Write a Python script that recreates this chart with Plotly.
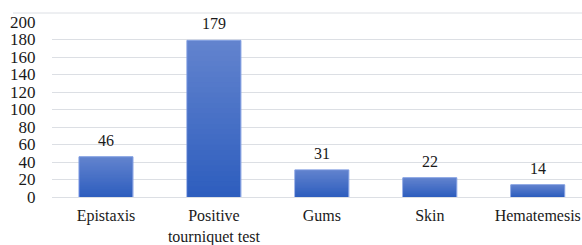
import plotly.graph_objects as go

categories = ["Epistaxis", "Positive<br>tourniquet test", "Gums", "Skin", "Hematemesis"]
values = [46, 179, 31, 22, 14]
y_ticks = [0, 20, 40, 60, 80, 100, 120, 140, 160, 180, 200]

font_family = "Liberation Serif"
text_color = "#1a1a1a"
top_rgb = (98, 131, 206)
bottom_rgb = (46, 94, 190)
n_layers = 30
bar_width = 0.5

fig = go.Figure()

# vertical gradient per bar, built by overlaying shrinking bars
for k in range(n_layers):
    t = k / (n_layers - 1)
    rgb = tuple(round(a + (b - a) * t) for a, b in zip(top_rgb, bottom_rgb))
    frac = 1 - k / n_layers
    fig.add_trace(
        go.Bar(
            x=categories,
            y=[v * frac for v in values],
            width=bar_width if k == 0 else bar_width - 2 / 108,
            marker=dict(
                color="rgb(%d,%d,%d)" % rgb,
                line=dict(color="#7d9be0", width=1 if k == 0 else 0),
            ),
            hoverinfo="skip" if k else "x+y",
        )
    )

for c, v in zip(categories, values):
    fig.add_annotation(
        x=c, y=v, text=str(v), showarrow=False, yanchor="bottom", yshift=6,
        font=dict(family=font_family, size=16, color=text_color),
    )

fig.update_layout(
    width=582,
    height=245,
    margin=dict(l=52, r=0, t=22, b=48, autoexpand=False),
    paper_bgcolor="white",
    plot_bgcolor="white",
    barmode="overlay",
    showlegend=False,
    font=dict(family=font_family, size=16, color=text_color),
    xaxis=dict(
        range=[-0.5, 4.41],
        automargin=False,
        showgrid=False,
        showline=False,
        ticks="outside",
        ticklen=4,
        tickcolor="rgba(0,0,0,0)",
        tickfont=dict(family=font_family, size=16, color=text_color),
    ),
    yaxis=dict(
        range=[0, 200],
        automargin=False,
        tickvals=y_ticks,
        showgrid=True,
        gridcolor="#dcdfe4",
        gridwidth=1,
        zeroline=True,
        zerolinecolor="#dcdfe4",
        zerolinewidth=1,
        showline=False,
        ticks="outside",
        ticklen=12,
        tickcolor="rgba(0,0,0,0)",
        tickfont=dict(family=font_family, size=17, color=text_color),
    ),
    shapes=[
        dict(
            type="line",
            xref="paper",
            yref="paper",
            x0=(13 - 52) / 530,
            x1=1,
            y0=1 + 9 / 175,
            y1=1 + 9 / 175,
            line=dict(color="#dcdfe4", width=1),
        )
    ],
)

fig.write_html(
    "out.html",
    config={"displayModeBar": False},
    post_script="document.body.style.margin='0';document.body.style.overflow='hidden';",
)
